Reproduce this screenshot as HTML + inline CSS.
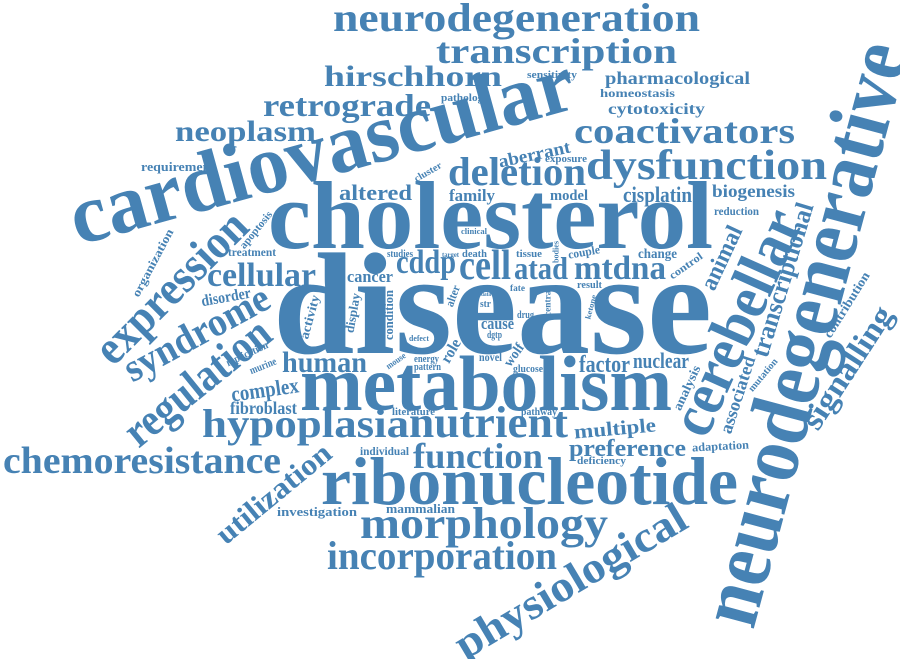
<!DOCTYPE html>
<html><head><meta charset="utf-8">
<style>
html,body{margin:0;padding:0;background:#fff;}
svg{display:block;}
text{font-family:"Liberation Serif",serif;font-weight:bold;fill:#4682b4;}
</style></head>
<body>
<svg id="cloud" width="900" height="659" viewBox="0 0 900 659" xmlns="http://www.w3.org/2000/svg"></svg>
<script>
// word, x1, x2, baseline, size, angle  (horizontal / near-horizontal words)
const hWords = [
["disease",273,712,353,145,0],
["cholesterol",268,713,248,96,0],
["metabolism",300,672,410,78,0],
["ribonucleotide",321,738,504,68,0],
["neurodegeneration",333,700,31,40,0],
["transcription",436,677,63,36,0],
["hirschhorn",324,502,86,30,0],
["pharmacological",605,750,84,18,0],
["sensitivity",527,577,78,10,0],
["pathology",441,489,101,11,0],
["homeostasis",600,675,97,12,0],
["cytotoxicity",608,705,114,16,0],
["retrograde",263,431,116,32,0],
["neoplasm",175,316,141,30,0],
["coactivators",574,795,143,36,0],
["aberrant",498,571,160,18,-12],
["exposure",545,587,162,10,0],
["requirement",141,215,171,13,0],
["deletion",448,586,185,40,0],
["dysfunction",586,827,179,42,0],
["altered",339,412,200,22,0],
["family",449,495,201,17,0],
["model",550,588,200,15,0],
["cisplatin",623,692,202,22,0],
["biogenesis",712,795,197,18,0],
["reduction",714,759,215,12,0],
["clinical",461,487,234,8,0],
["treatment",228,276,256,12,0],
["studies",387,413,257,10,0],
["target",442,459,257,7,0],
["death",462,487,257,10,0],
["tissue",516,542,257,11,0],
["couple",568,600,256,12,-10],
["change",638,677,258,14,0],
["cellular",207,316,286,34,0],
["cddp",396,456,273,34,0],
["cell",459,511,279,42,0],
["atad",514,568,279,32,0],
["mtdna",574,666,279,34,0],
["cancer",347,393,282,17,0],
["result",577,602,288,10,0],
["fate",510,525,291,9,0],
["disorder",201,251,302,16,-10],
["str",480,491,307,11,0],
["data",481,491,296,6,0],
["cause",481,514,329,17,0],
["dgtp",487,502,338,10,0],
["drug",517,534,318,10,0],
["defect",409,429,341,8,0],
["human",282,367,372,30,0],
["factor",579,630,372,24,0],
["nuclear",633,689,368,22,0],
["novel",479,502,361,12,0],
["glucose",513,543,372,10,0],
["energy",414,439,362,10,0],
["pattern",414,441,370,10,0],
["complex",231,299,397,22,-8],
["fibroblast",230,297,414,18,0],
["literature",392,435,415,11,0],
["pathway",521,557,415,11,0],
["multiple",574,656,435,20,-5],
["hypoplasia",202,409,437,40,0],
["nutrient",409,568,437,44,0],
["individual",360,409,455,12,0],
["preference",569,686,456,24,0],
["adaptation",692,749,450,12,-3],
["deficiency",577,626,464,11,0],
["chemoresistance",3,281,473,38,0],
["function",413,543,468,36,0],
["investigation",277,357,516,13,0],
["mammalian",386,455,513,13,0],
["morphology",360,608,538,44,0],
["incorporation",327,557,569,40,0]
];
// word, centerX, centerY, size, length, angle (rotated words)
const rWords = [
["cardiovascular",322,152,84,520,-15.4],
["neurodegenerative",806,334,86,600,-75],
["expression",172,288,48,195,-45],
["syndrome",197,334,40,160,-28.5],
["regulation",198,383,46,175,-39],
["utilization",274,494,30,140,-39.5],
["physiological",571,582,44,262,-30.7],
["organization",153,263,12,75,-62],
["apoptosis",256,230,11,45,-51],
["cluster",428,172,10,30,-30],
["bodies",556,252,8,22,-90],
["replication",247,354,11,45,-25],
["murine",263,366,11,28,-22],
["activity",310,317,13,45,-75],
["display",353,313,13,40,-80],
["condition",389,315,13,50,-90],
["alter",453,296,12,22,-70],
["role",451,351,16,25,-60],
["wolf",514,355,14,25,-55],
["central",548,302,9,28,-90],
["ketone",591,307,8,25,-75],
["control",686,266,11,38,-35],
["mouse",396,361,9,22,-35],
["animal",722,258,24,68,-65],
["cerebellar",738,323,62,240,-66],
["transcriptional",783,280,26,160,-73],
["associated",738,395,18,80,-72],
["analysis",687,388,13,48,-65],
["mutation",763,375,10,40,-50],
["contribution",847,305,13,75,-58],
["signalling",848,368,32,140,-57]
];
const svg = document.getElementById('cloud');
const NS = 'http://www.w3.org/2000/svg';
function addWord(w, cx, by, size, len, ang, pivotY) {
  const t = document.createElementNS(NS, 'text');
  
  
  t.setAttribute('x', cx);
  t.setAttribute('y', by);
  t.setAttribute('font-size', size);
  t.setAttribute('text-anchor', 'middle');
  t.setAttribute('textLength', len);
  t.setAttribute('lengthAdjust', 'spacingAndGlyphs');
  if (ang) t.setAttribute('transform', 'rotate(' + ang + ' ' + cx + ' ' + pivotY + ')');
  t.textContent = w;
  svg.appendChild(t);
}
hWords.forEach(d => {
  const cx = (d[1] + d[2]) / 2;
  addWord(d[0], cx, d[3], d[4], d[2] - d[1], d[5], d[3] - d[4] * 0.3);
});
rWords.forEach(d => {
  addWord(d[0], d[1], d[2] + d[3] * 0.3, d[3], d[4], d[5], d[2]);
});
</script>
</body></html>
